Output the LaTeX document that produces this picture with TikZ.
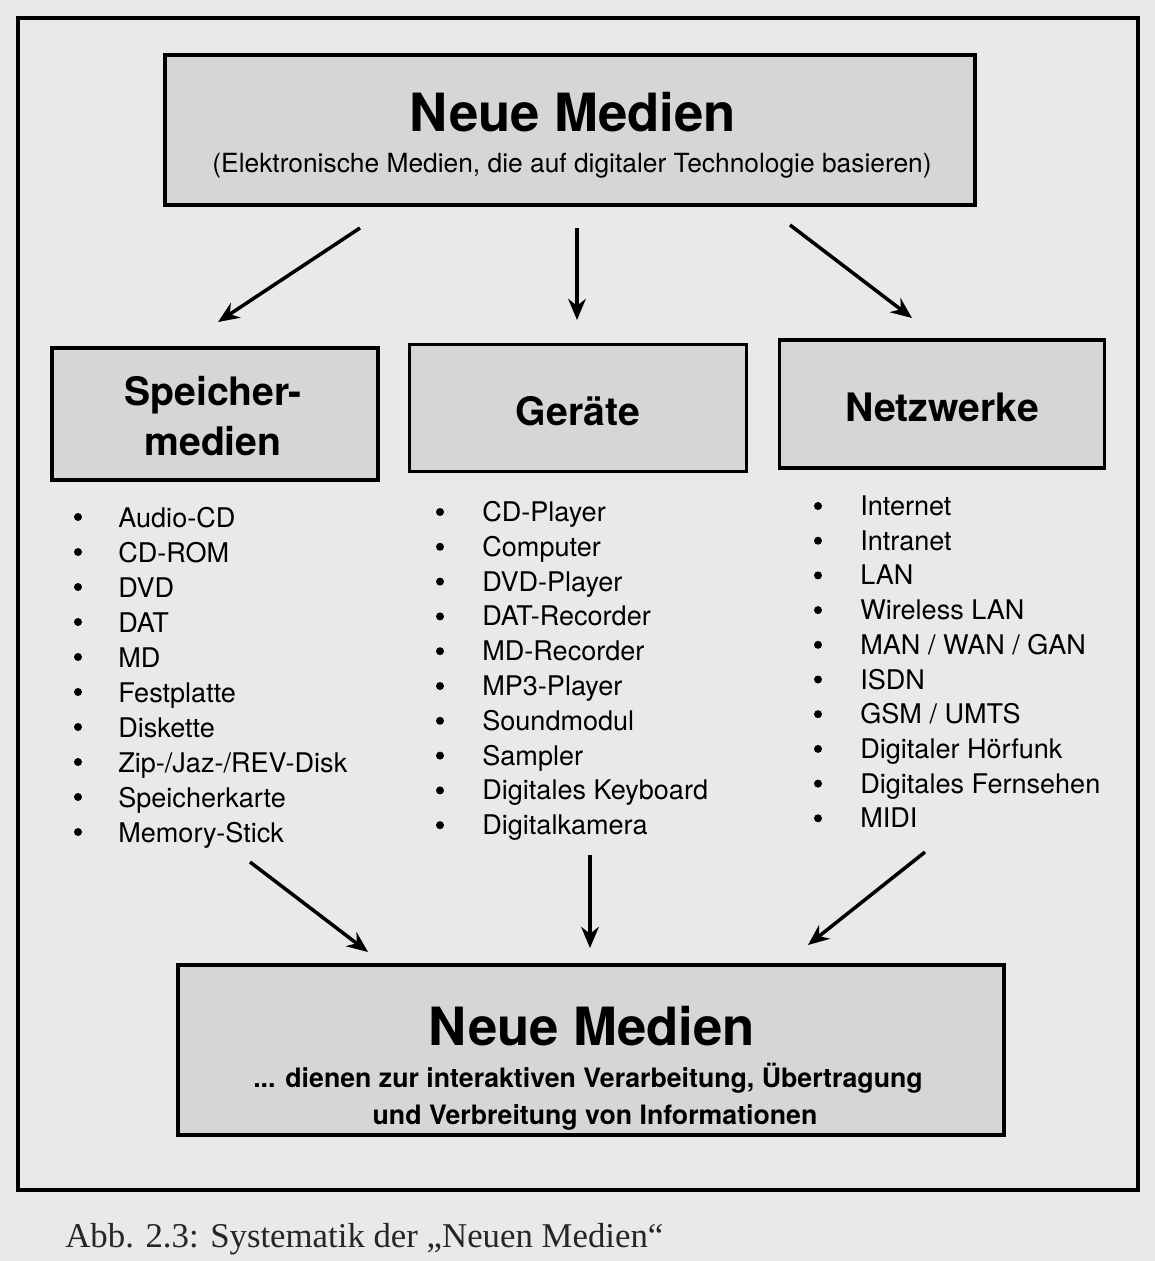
\documentclass[tikz,border=0pt]{standalone}
\usepackage{fontspec}
\setmainfont{TeX Gyre Heros}
\newfontfamily\capfont{Liberation Serif}
\usetikzlibrary{arrows.meta}

\definecolor{paper}{RGB}{233,233,231}
\definecolor{boxfill}{RGB}{214,214,212}

\begin{document}
\begin{tikzpicture}[
        x=0.02cm,
        y=-0.02cm,
        box/.style={draw=black, line width=2.2pt, fill=boxfill, inner sep=0pt},
        head/.style={anchor=base, inner sep=0pt, font=\fontsize{30}{34}\selectfont\bfseries},
        sub/.style={anchor=base, inner sep=0pt, font=\fontsize{15}{18}\selectfont},
        subbf/.style={anchor=base, inner sep=0pt, font=\fontsize{15.2}{18}\selectfont\bfseries},
        cat/.style={anchor=base, inner sep=0pt, font=\fontsize{22.3}{26}\selectfont\bfseries},
        item/.style={anchor=base west, inner sep=0pt, font=\fontsize{15.4}{18}\selectfont},
        arr/.style={-{Stealth[length=12pt,width=10pt]}, line width=2pt}
    ]
        \useasboundingbox (0,0) rectangle (1155,1261);
        \fill[paper] (0,0) rectangle (1155,1261);
        \draw[line width=2.4pt] (18,18) rectangle (1138,1190);

        % boxes
        \node[box, minimum width=16.2cm, minimum height=3.0cm] (top) at (570,130) {};
        \node[box, minimum width=6.52cm, minimum height=2.64cm] (speicher) at (215,414) {};
        \node[box, minimum width=6.74cm, minimum height=2.54cm] (geraete) at (578,408) {};
        \node[box, minimum width=6.5cm, minimum height=2.56cm] (netz) at (942,404) {};
        \node[box, minimum width=16.54cm, minimum height=3.4cm] (bottom) at (591,1050) {};

        \node[head] (toptitle) at (573,131) {Neue Medien};
        \node[sub] (topsub) at (572,172) {(Elektronische Medien, die auf digitaler Technologie basieren)};
        \node[cat] (sp1) at (213,405) {Speicher-};
        \node[cat] (sp2) at (213,455) {medien};
        \node[cat] (ge) at (578,425) {Geräte};
        \node[cat] (ne) at (942,421) {Netzwerke};
        \node[head] (bottitle) at (592,1045) {Neue Medien};
        \node[subbf] (botsub1) at (588,1087) {... dienen zur interaktiven Verarbeitung, Übertragung};
        \node[subbf] (botsub2) at (595,1124) {und Verbreitung von Informationen};

        % lists
        \foreach \n [count=\i from 0] in {Audio-CD,CD-ROM,DVD,DAT,MD,Festplatte,Diskette,Zip-/Jaz-/REV-Disk,Speicherkarte,Memory-Stick} {
            \fill (78,{517+35*\i}) circle (0.08cm);
            \node[item] (sl\i) at (118,{527+35*\i}) {\n};
        }
        \foreach \n [count=\i from 0] in {CD-Player,Computer,DVD-Player,DAT-Recorder,MD-Recorder,MP3-Player,Soundmodul,Sampler,Digitales Keyboard,Digitalkamera} {
            \fill (440,{512+34.8*\i}) circle (0.08cm);
            \node[item] (gl\i) at (482,{521.5+34.8*\i}) {\n};
        }
        \foreach \n [count=\i from 0] in {Internet,Intranet,LAN,Wireless LAN,MAN / WAN / GAN,ISDN,GSM / UMTS,Digitaler Hörfunk,Digitales Fernsehen,MIDI} {
            \fill (818,{506+34.7*\i}) circle (0.08cm);
            \node[item] (nl\i) at (860,{515.5+34.7*\i}) {\n};
        }

        % arrows
        \coordinate (a1s) at (360,228);  \coordinate (a1e) at (218,322);
        \coordinate (a2s) at (577,228);  \coordinate (a2e) at (577,320);
        \coordinate (a3s) at (790,225);  \coordinate (a3e) at (912,318);
        \coordinate (b1s) at (250,862);  \coordinate (b1e) at (368,952);
        \coordinate (b2s) at (590,855);  \coordinate (b2e) at (590,948);
        \coordinate (b3s) at (925,852);  \coordinate (b3e) at (808,945);
        \foreach \a in {a1,a2,a3,b1,b2,b3} {
            \draw[arr] (\a s) -- (\a e);
        }

        \node[anchor=base west, inner sep=0pt, font=\capfont\fontsize{19.8}{24}\selectfont, black!85] (caption) at (65,1247) {Abb. 2.3: Systematik der „Neuen Medien“};
    \end{tikzpicture}
\end{document}
